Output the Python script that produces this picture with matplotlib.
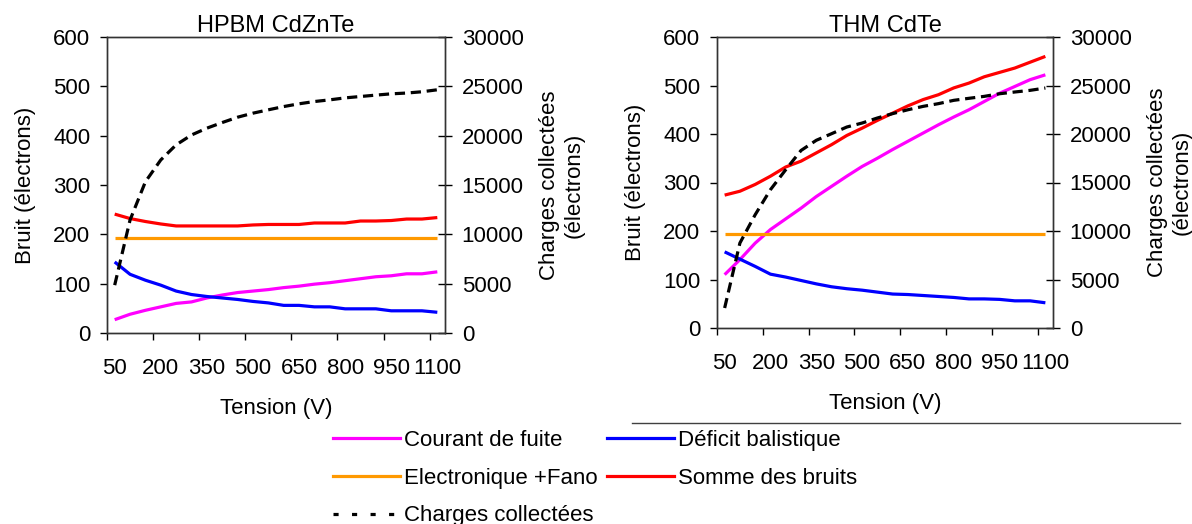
import matplotlib
matplotlib.use("Agg")
import matplotlib.pyplot as plt
from matplotlib.lines import Line2D

plt.rcParams['font.family'] = ['Liberation Sans', 'DejaVu Sans']

tension = [50, 100, 150, 200, 250, 300, 350, 400, 450, 500, 550, 600,
           650, 700, 750, 800, 850, 900, 950, 1000, 1050, 1100]
tick_labels = ['50', '200', '350', '500', '650', '800', '950', '1100']

# HPBM CdZnTe
hp_fuite = [27, 38, 46, 53, 60, 63, 71, 77, 82, 85, 88, 92, 95, 99, 102, 106,
            110, 114, 116, 120, 120, 124]
hp_balist = [144, 119, 107, 97, 85, 78, 74, 71, 68, 64, 61, 56, 56, 53, 53, 49,
             49, 49, 45, 45, 45, 42]
hp_elec = [193] * 22
hp_somme = [241, 232, 226, 221, 217, 217, 217, 217, 217, 219, 220, 220, 220,
            223, 223, 223, 227, 227, 228, 231, 231, 234]
hp_charges = [4850, 11450, 15330, 17540, 19070, 20070, 20760, 21330, 21870,
              22280, 22620, 22950, 23230, 23460, 23630, 23830, 23970, 24110,
              24240, 24320, 24450, 24650]

# THM CdTe
thm_fuite = [110, 141, 175, 203, 225, 247, 271, 292, 313, 333, 350, 368, 385,
             402, 419, 435, 450, 467, 484, 498, 512, 522]
thm_balist = [157, 142, 127, 111, 105, 98, 91, 85, 81, 78, 74, 70, 69, 67, 65,
              63, 60, 60, 59, 56, 56, 52]
thm_elec = [193] * 22
thm_somme = [274, 282, 296, 313, 332, 344, 361, 378, 397, 412, 428, 443, 458,
             471, 481, 495, 505, 518, 527, 536, 548, 560]
thm_charges = [2060, 8760, 11680, 14260, 16320, 18300, 19350, 20030, 20720,
               21130, 21650, 22100, 22500, 22850, 23130, 23470, 23680, 23880,
               24150, 24330, 24500, 24740]

names = ['Courant de fuite', 'Déficit balistique', 'Electronique +Fano',
         'Somme des bruits', 'Charges collectées']
colors = ['#FF00FF', '#0000FF', '#FF9900', '#FF0000', '#000000']

W, H = 1192, 524
fig = plt.figure(figsize=(W / 100, H / 100), dpi=100)

FS = 16
LW = 2.3
DASH = (0, (3.2, 1.8))


def make_panel(rect, title, fuite, balist, elec, somme, charges):
    ax = fig.add_axes(rect)
    x = list(range(len(tension)))
    ax.plot(x, fuite, color=colors[0], lw=LW, solid_capstyle='butt')
    ax.plot(x, balist, color=colors[1], lw=LW, solid_capstyle='butt')
    ax.plot(x, elec, color=colors[2], lw=LW, solid_capstyle='butt')
    ax.plot(x, somme, color=colors[3], lw=LW, solid_capstyle='butt')
    ax.set_xlim(-0.5, len(tension) - 0.5)
    ax.set_ylim(0, 600)
    ax.set_yticks(range(0, 601, 100))
    ax.set_xticks([i - 0.5 for i in range(0, len(tension), 3)])
    ax.set_xticklabels([])
    ax.set_xticks(list(range(0, len(tension), 3)), minor=True)
    ax.set_xticklabels(tick_labels, minor=True)
    ax.tick_params(axis='x', which='major', direction='out', length=5, width=1)
    ax.tick_params(axis='x', which='minor', length=0, pad=18, labelsize=FS)
    ax.tick_params(axis='y', direction='out', length=5, width=1, pad=7,
                   labelsize=FS)
    for s in ax.spines.values():
        s.set_linewidth(1)
        s.set_color('#333333')
    ax.set_title(title, fontsize=17, pad=3)
    ax.set_xlabel('Tension (V)', fontsize=FS, labelpad=14)
    ax.set_ylabel('Bruit (électrons)', fontsize=FS, labelpad=12)
    ax2 = ax.twinx()
    ax2.plot(x, charges, color=colors[4], lw=LW, linestyle=DASH)
    ax2.set_ylim(0, 30000)
    ax2.set_yticks(range(0, 30001, 5000))
    ax2.tick_params(axis='y', direction='inout', length=10, width=1, pad=7,
                    labelsize=FS)
    ax2.set_ylabel('Charges collectées\n(électrons)', fontsize=FS, labelpad=11)
    for s in ax2.spines.values():
        s.set_linewidth(1)
        s.set_color('#333333')
    return ax, ax2


make_panel([107 / W, (H - 333) / H, 338 / W, 296 / H], 'HPBM CdZnTe',
           hp_fuite, hp_balist, hp_elec, hp_somme, hp_charges)
make_panel([717 / W, (H - 328) / H, 336 / W, 291 / H], 'THM CdTe',
           thm_fuite, thm_balist, thm_elec, thm_somme, thm_charges)

handles = [Line2D([], [], color=colors[0], lw=LW),
           Line2D([], [], color=colors[2], lw=LW),
           Line2D([], [], color=colors[4], lw=LW, linestyle=(0, (1.6, 4.2))),
           Line2D([], [], color=colors[1], lw=LW),
           Line2D([], [], color=colors[3], lw=LW)]
labels = [names[0], names[2], names[4], names[1], names[3]]
fig.legend(handles, labels, loc='upper left',
           bbox_to_anchor=(333 / W, 1 - 430 / H), ncol=2, frameon=False,
           fontsize=FS, handlelength=3.0, handletextpad=0.18,
           columnspacing=0.45, labelspacing=0.75, borderpad=0,
           borderaxespad=0)

fig.add_artist(Line2D([632 / W, 1180 / W], [1 - 423 / H, 1 - 423 / H],
                      color='#404040', lw=1))

fig.savefig('out.png', dpi=100)
